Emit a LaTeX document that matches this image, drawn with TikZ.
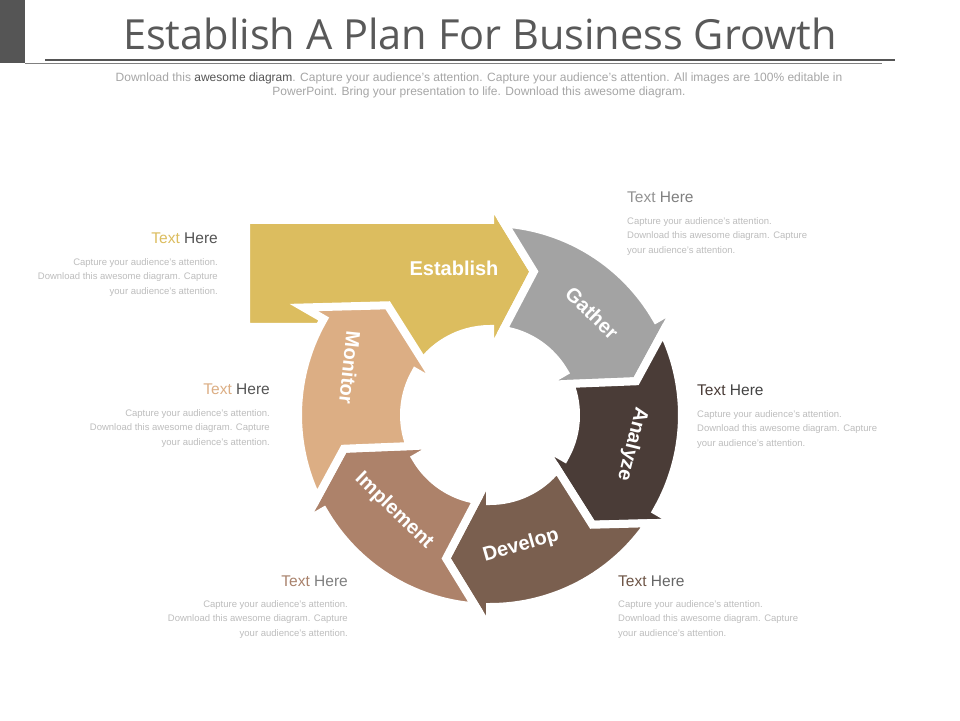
\documentclass[tikz,border=0pt]{standalone}
\usepackage{fontspec}
\setmainfont{Liberation Sans}
\newfontfamily\titlefont{Open Sans}
\usepackage{tikz}
\usetikzlibrary{positioning}

\definecolor{establishc}{HTML}{DCBD5F}
\definecolor{gatherc}{HTML}{A3A3A3}
\definecolor{analyzec}{HTML}{4A3C37}
\definecolor{developc}{HTML}{7A5F4F}
\definecolor{implementc}{HTML}{AD826A}
\definecolor{monitorc}{HTML}{DCAE84}
\definecolor{titlegray}{HTML}{595959}
\definecolor{bargray}{HTML}{555555}
\definecolor{subgray}{HTML}{A6A6A6}
\definecolor{notegray}{HTML}{BDBDBD}

\newcommand{\ringarrow}[2]{%
  \filldraw[step arrow,fill=#2] (#1+55.69:192pt) arc[start angle=#1+55.69,end angle=#1,radius=192pt]
    -- (#1:215pt) -- (#1-17:150pt) -- (#1:60pt) -- (#1:86pt)
    arc[start angle=#1,end angle=#1+51.21,radius=86pt] -- (#1+43:150pt) -- cycle;}

\begin{document}
\begin{tikzpicture}[x=1pt,y=1pt,
  step arrow/.style={draw=white,line width=8pt,miter limit=10},
  step label/.style={text=white,inner sep=0pt,font=\fontsize{20}{24}\selectfont\bfseries},
  note head/.style={inner sep=0pt,font=\fontsize{15.5}{18}\selectfont},
  note body/.style={inner sep=0pt,text=notegray,font=\fontsize{9.5}{14.5}\selectfont}]
  \useasboundingbox (0,0) rectangle (960,720);
  \fill[white] (0,0) rectangle (960,720);
  \fill[bargray] (0,657) rectangle (25,720);
  \draw[bargray,line width=2.5pt] (45,660) -- (895,660);
  \draw[gray,line width=1pt] (25,656.5) -- (882,656.5);

  \node[anchor=base,inner sep=0pt,text=titlegray,font=\titlefont\fontsize{41.5}{50}\selectfont] (title) at (480,670) {Establish A Plan For Business Growth};
  \node[anchor=north,align=center,inner sep=0pt,text=subgray,font=\fontsize{12}{14}\selectfont] (subtitle) at (479,647) {Download this \textcolor{bargray}{awesome diagram}. Capture your audience’s attention. Capture your audience’s attention. All images are 100\% editable in\\PowerPoint. Bring your presentation to life. Download this awesome diagram.};

  \begin{scope}[shift={(490,305)}]
    \filldraw[step arrow,fill=establishc] (-244,195) -- (0,195) -- (90:215pt) -- (73:150pt) -- (90:60pt) -- (90:86pt)
      arc[start angle=90,end angle=150,radius=86pt] -- (-152.4,88) -- (-244,88) -- cycle;
    \foreach \b/\c in {30/gatherc,-30/analyzec,-90/developc,-150/implementc,150/monitorc}
      \ringarrow{\b}{\c};
  \end{scope}

  \node[step label] (establish) at (454,452) {Establish};
  \node[step label,rotate=-44] (gather) at (592,407) {Gather};
  \node[step label,rotate=-104] (analyze) at (632,276) {Analyze};
  \node[step label,rotate=16] (develop) at (521,174) {Develop};
  \node[step label,rotate=-44] (implement) at (394,209) {Implement};
  \node[step label,rotate=-96] (monitor) at (350,352) {Monitor};

  \node[note head,anchor=base east] (note1) at (218,476) {\textcolor{establishc}{Text} \textcolor{bargray}{Here}};
  \node[note body,align=right,below=14pt of note1.south east,anchor=north east] (body1) {Capture your audience’s attention.\\Download this awesome diagram. Capture\\your audience’s attention.};
  \node[note head,anchor=base east] (note2) at (270,325) {\textcolor{monitorc}{Text} \textcolor{bargray}{Here}};
  \node[note body,align=right,below=14pt of note2.south east,anchor=north east] (body2) {Capture your audience’s attention.\\Download this awesome diagram. Capture\\your audience’s attention.};
  \node[note head,anchor=base east] (note3) at (348,134) {\textcolor{implementc!90!gray}{Text} \textcolor{gray}{Here}};
  \node[note body,align=right,below=14pt of note3.south east,anchor=north east] (body3) {Capture your audience’s attention.\\Download this awesome diagram. Capture\\your audience’s attention.};
  \node[note head,anchor=base west] (note4) at (627,517) {\textcolor{gray!85}{Text} \textcolor{gray}{Here}};
  \node[note body,align=left,below=14pt of note4.south west,anchor=north west] (body4) {Capture your audience’s attention.\\Download this awesome diagram. Capture\\your audience’s attention.};
  \node[note head,anchor=base west] (note5) at (697,324) {\textcolor{analyzec}{Text} \textcolor{bargray!80!black}{Here}};
  \node[note body,align=left,below=14pt of note5.south west,anchor=north west] (body5) {Capture your audience’s attention.\\Download this awesome diagram. Capture\\your audience’s attention.};
  \node[note head,anchor=base west] (note6) at (618,134) {\textcolor{developc!90!black}{Text} \textcolor{bargray!90}{Here}};
  \node[note body,align=left,below=14pt of note6.south west,anchor=north west] (body6) {Capture your audience’s attention.\\Download this awesome diagram. Capture\\your audience’s attention.};
\end{tikzpicture}
\end{document}
